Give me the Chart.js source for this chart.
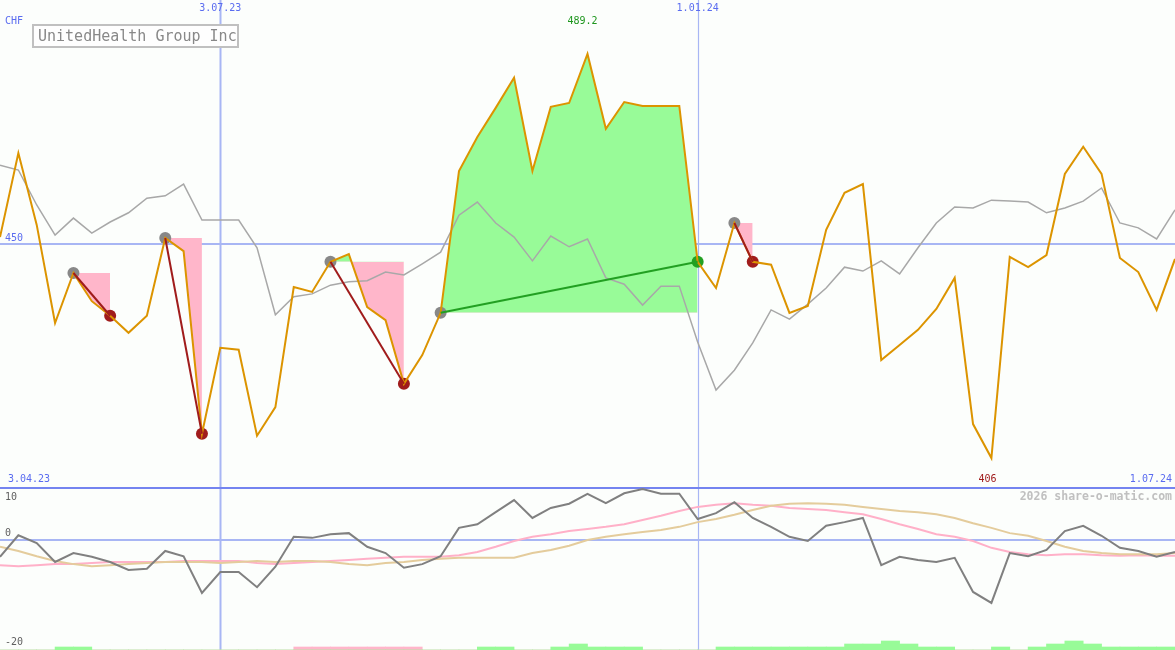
<!DOCTYPE html>
<html>
<head>
<meta charset="utf-8">
<script src="https://cdn.jsdelivr.net/npm/chart.js@4.4.1/dist/chart.umd.min.js"></script>
<style>
  body { margin: 0; background: #fcfefc; }
  #wrap { position: relative; width: 1175px; height: 650px; overflow: hidden; }
  canvas { position: absolute; left: 0; }
  #main { top: 0; }
  #osc { top: 487px; }
</style>
</head>
<body>
<div id="wrap">
  <canvas id="main" width="1175" height="487"></canvas>
  <canvas id="osc" width="1175" height="163"></canvas>
</div>
<script>
const title = "UnitedHealth Group Inc";
const currency = "CHF";
const site = "2026 share-o-matic.com";

const weeks = [
    "10.04.23", "17.04.23", "24.04.23", "1.05.23", "8.05.23", "15.05.23", "22.05.23", "29.05.23",
    "5.06.23", "12.06.23", "19.06.23", "26.06.23", "3.07.23", "10.07.23", "17.07.23", "24.07.23",
    "31.07.23", "7.08.23", "14.08.23", "21.08.23", "28.08.23", "4.09.23", "11.09.23", "18.09.23",
    "25.09.23", "2.10.23", "9.10.23", "16.10.23", "23.10.23", "30.10.23", "6.11.23", "13.11.23",
    "20.11.23", "27.11.23", "4.12.23", "11.12.23", "18.12.23", "25.12.23", "1.01.24", "8.01.24",
    "15.01.24", "22.01.24", "29.01.24", "5.02.24", "12.02.24", "19.02.24", "26.02.24", "4.03.24",
    "11.03.24", "18.03.24", "25.03.24", "1.04.24", "8.04.24", "15.04.24", "22.04.24", "29.04.24",
    "6.05.24", "13.05.24", "20.05.24", "27.05.24", "3.06.24", "10.06.24", "17.06.24", "24.06.24",
    "1.07.24"
];

// weekly close, CHF
const price = [
    451.5, 468.8, 454.0, 433.8, 444.1, 438.3, 435.3, 431.8, 435.3, 451.3,
    448.6, 411.0, 428.7, 428.3, 410.6, 416.5, 441.2, 440.2, 446.4, 448.0,
    437.1, 434.4, 421.3, 427.2, 435.9, 465.1, 472.1, 478.1, 484.3, 465.1,
    478.3, 479.1, 489.2, 473.8, 479.3, 478.5, 478.5, 478.5, 446.4, 441.0,
    454.4, 446.4, 445.8, 435.9, 437.3, 453.0, 460.6, 462.4, 426.2, 429.3,
    432.4, 436.7, 443.1, 413.0, 406.0, 447.4, 445.3, 447.8, 464.5, 470.1,
    464.5, 447.2, 444.3, 436.5, 447.0
];

// grey comparison line
const benchmark = [
    466.3, 465.3, 458.1, 451.9, 455.4, 452.3, 454.6, 456.5, 459.5, 460.0,
    462.4, 455.0, 455.0, 455.0, 449.3, 435.5, 439.2, 439.8, 441.6, 442.3,
    442.5, 444.3, 443.7, 446.0, 448.4, 456.0, 458.7, 454.4, 451.5, 446.6,
    451.7, 449.5, 451.1, 443.1, 441.8, 437.5, 441.4, 441.4, 429.9, 420.0,
    424.1, 429.7, 436.5, 434.6, 437.7, 441.0, 445.3, 444.5, 446.6, 443.9,
    449.3, 454.4, 457.7, 457.5, 459.1, 458.9, 458.7, 456.5, 457.5, 458.9,
    461.6, 454.4, 453.4, 451.1, 457.1
];

// lower panel
const momentum = [
    -3.1, 1.0, -0.5, -4.1, -2.4, -3.1, -4.1, -5.6, -5.4, -2.0,
    -3.0, -10.0, -6.0, -6.0, -8.9, -5.0, 0.7, 0.5, 1.2, 1.4,
    -1.2, -2.4, -5.2, -4.5, -3.0, 2.4, 3.1, 5.4, 7.7, 4.3,
    6.2, 7.0, 8.9, 7.1, 9.0, 9.8, 8.9, 8.9, 4.1, 5.2,
    7.3, 4.3, 2.6, 0.7, -0.1, 2.8, 3.5, 4.3, -4.7, -3.1,
    -3.7, -4.1, -3.3, -9.8, -11.9, -2.4, -3.0, -1.8, 1.8, 2.8,
    0.9, -1.4, -2.0, -3.1, -2.2
];
const fastAvg = [
    -4.7, -4.9, -4.7, -4.5, -4.5, -4.3, -4.1, -4.1, -4.1, -4.1,
    -3.9, -3.9, -3.9, -3.9, -4.3, -4.5, -4.3, -4.1, -3.9, -3.7,
    -3.5, -3.3, -3.1, -3.1, -3.1, -2.8, -2.2, -1.2, -0.1, 0.7,
    1.2, 1.8, 2.2, 2.6, 3.1, 3.9, 4.7, 5.6, 6.4, 6.8,
    7.1, 6.8, 6.6, 6.2, 6.0, 5.8, 5.4, 5.0, 4.1, 3.1,
    2.2, 1.2, 0.7, -0.1, -1.4, -2.2, -2.6, -2.8, -2.6, -2.6,
    -2.8, -2.9, -2.8, -2.9, -2.9
];
const slowAvg = [
    -1.2, -2.0, -3.0, -3.9, -4.5, -4.9, -4.7, -4.5, -4.3, -4.1,
    -4.1, -4.1, -4.3, -4.1, -3.9, -4.1, -3.9, -3.9, -4.1, -4.5,
    -4.7, -4.3, -4.1, -3.7, -3.5, -3.3, -3.3, -3.3, -3.3, -2.4,
    -1.8, -1.0, 0.1, 0.7, 1.2, 1.6, 2.0, 2.6, 3.5, 4.1,
    4.9, 5.8, 6.6, 7.0, 7.1, 7.0, 6.8, 6.4, 6.0, 5.6,
    5.4, 5.0, 4.3, 3.3, 2.4, 1.4, 0.9, -0.1, -1.2, -2.0,
    -2.4, -2.6, -2.6, -2.6, -2.4
];

// signal strength per week interval (64 intervals)
const signalUp = [
    0, 0, 0, 1, 1, 0, 0, 0, 0, 0,
    0, 0, 0, 0, 0, 0, 0, 0, 0, 0,
    0, 0, 0, 0, 0, 0, 1, 1, 0, 0,
    1, 2, 1, 1, 1, 0, 0, 0, 0, 1,
    1, 1, 1, 1, 1, 1, 2, 2, 3, 2,
    1, 1, 0, 0, 1, 0, 1, 2, 3, 2,
    1, 1, 1, 1
];
const signalDown = [
    0, 0, 0, 0, 0, 0, 0, 0, 0, 0,
    0, 0, 0, 0, 0, 0, 1, 1, 1, 1,
    1, 1, 1, 0, 0, 0, 0, 0, 0, 0,
    0, 0, 0, 0, 0, 0, 0, 0, 0, 0,
    0, 0, 0, 0, 0, 0, 0, 0, 0, 0,
    0, 0, 0, 0, 0, 0, 0, 0, 0, 0,
    0, 0, 0, 0
];

// trades: week index of buy and sell
const tradeEntry = [4, 9, 18, 24, 40];
const tradeExit = [6, 11, 22, 38, 41];

const markIdx = [12, 38];
const markLabels = ["3.07.23", "1.01.24"];
const startLabel = "3.04.23";
const endLabel = "1.07.24";
const priceLevel = 450;
const oscTicks = [10, 0, -20];

const FONT = "'DejaVu Sans Mono', monospace";
const BLUE = "#5a6cf0";
const GRID = "#a8b6f4";
const UP = "rgb(152,251,152)";
const DOWN = "rgb(255,182,202)";
const LOSS = "#a01c1c";
const WIN = "#22a022";

function fmt(v) { return String(+v.toFixed(1)); }

// main panel datasets
const mainSets = [];
tradeEntry.forEach((e, k) => {
    const x = tradeExit[k];
    const win = price[x] > price[e];
    mainSets.push({
        data: weeks.map((_, i) => (i >= e && i <= x) ? price[e] : null),
        borderWidth: 0, borderColor: "transparent", pointRadius: 0, fill: false, order: 20
    });
    mainSets.push({
        data: weeks.map((_, i) => (i >= e && i <= x) ? price[i] : null),
        borderWidth: 0, borderColor: "transparent", pointRadius: 0,
        fill: { target: mainSets.length - 1, above: UP, below: DOWN }, order: 19
    });
    mainSets.push({
        data: weeks.map((_, i) => (i === e || i === x) ? price[i] : null),
        spanGaps: true, borderColor: win ? WIN : LOSS, borderWidth: 2, pointRadius: 0, order: 2
    });
});
mainSets.push({
    data: weeks.map((_, i) => tradeEntry.includes(i) ? price[i] : null),
    showLine: false, pointRadius: 6, pointHoverRadius: 6, pointBorderWidth: 0,
    pointBackgroundColor: "#888888", order: 10
});
mainSets.push({
    data: weeks.map((_, i) => tradeExit.includes(i) ? price[i] : null),
    showLine: false, pointRadius: 6, pointHoverRadius: 6, pointBorderWidth: 0,
    pointBackgroundColor: ctx => {
        const k = tradeExit.indexOf(ctx.dataIndex);
        return k >= 0 && price[tradeExit[k]] > price[tradeEntry[k]] ? WIN : LOSS;
    },
    order: 9
});
mainSets.push({ data: benchmark, borderColor: "#a8a8a8", borderWidth: 1.5, pointRadius: 0, fill: false, order: 8 });
mainSets.push({ data: price, borderColor: "#dc9400", borderWidth: 2, pointRadius: 0, fill: false, order: 5 });

function vLines(chart) {
    const c = chart.ctx, xs = chart.scales.x;
    c.save();
    c.strokeStyle = GRID;
    markIdx.forEach((idx, n) => {
        c.lineWidth = n === 0 ? 2 : 1.2;
        const px = Math.round(xs.getPixelForValue(idx)) + 0.5;
        c.beginPath(); c.moveTo(px, 0); c.lineTo(px, chart.height); c.stroke();
    });
    c.restore();
}

const mainDecor = {
    id: "mainDecor",
    beforeDatasetsDraw(chart) {
        const c = chart.ctx, ys = chart.scales.y;
        vLines(chart);
        c.save();
        c.strokeStyle = GRID; c.lineWidth = 2;
        const py = Math.round(ys.getPixelForValue(priceLevel));
        c.beginPath(); c.moveTo(0, py); c.lineTo(chart.width, py); c.stroke();
        c.restore();
    },
    afterDraw(chart) {
        const c = chart.ctx, xs = chart.scales.x, ys = chart.scales.y;
        c.save();
        c.font = "10px " + FONT;
        c.textBaseline = "top";
        c.fillStyle = BLUE;
        c.textAlign = "center";
        markIdx.forEach((idx, n) => c.fillText(markLabels[n], xs.getPixelForValue(idx), 3));
        c.textAlign = "left";
        c.fillText(currency, 5, 16);
        c.textBaseline = "bottom";
        c.fillText(String(priceLevel), 5, ys.getPixelForValue(priceLevel) - 1);
        c.fillText(startLabel, 8, chart.height - 3);
        c.textAlign = "right";
        c.fillText(endLabel, chart.width - 3, chart.height - 3);

        const hi = price.indexOf(Math.max(...price));
        const lo = price.indexOf(Math.min(...price));
        c.textAlign = "center";
        c.fillStyle = "#1e961e";
        c.textBaseline = "top";
        c.fillText(fmt(price[hi]), xs.getPixelForValue(hi) - 5, 16);
        c.fillStyle = "#a01c1c";
        c.textBaseline = "bottom";
        c.fillText(fmt(price[lo]), xs.getPixelForValue(lo) - 4, chart.height - 3);

        // title box
        c.fillStyle = "#fefefe";
        c.fillRect(33, 25, 205, 22);
        c.strokeStyle = "#c0c0c0"; c.lineWidth = 2;
        c.strokeRect(33, 25, 205, 22);
        c.fillStyle = "#888888";
        c.font = "15px " + FONT;
        c.textAlign = "left";
        c.textBaseline = "alphabetic";
        c.fillText(title, 38, 41);
        c.restore();
    }
};

new Chart(document.getElementById("main"), {
    type: "line",
    data: { labels: weeks, datasets: mainSets },
    options: {
        responsive: false,
        animation: false,
        devicePixelRatio: 1,
        events: [],
        layout: { padding: 0, autoPadding: false },
        elements: { line: { tension: 0 } },
        plugins: { legend: { display: false }, tooltip: { enabled: false } },
        scales: {
            x: { display: false, offset: false },
            y: { display: false, min: 400.05, max: 500.3 }
        }
    },
    plugins: [mainDecor]
});

// lower panel
const oscDecor = {
    id: "oscDecor",
    beforeDatasetsDraw(chart) {
        const c = chart.ctx, ys = chart.scales.y;
        vLines(chart);
        c.save();
        c.strokeStyle = GRID; c.lineWidth = 2;
        const py = Math.round(ys.getPixelForValue(0));
        c.beginPath(); c.moveTo(0, py); c.lineTo(chart.width, py); c.stroke();
        c.strokeStyle = "#7484f0";
        c.beginPath(); c.moveTo(0, 1); c.lineTo(chart.width, 1); c.stroke();
        c.restore();
    },
    afterDraw(chart) {
        const c = chart.ctx, ys = chart.scales.y;
        c.save();
        c.font = "10px " + FONT;
        c.fillStyle = "#606060";
        c.textAlign = "left";
        oscTicks.forEach(t => {
            let py = ys.getPixelForValue(t);
            if (t === oscTicks[0]) { c.textBaseline = "top"; py = 5; }
            else if (t === oscTicks[oscTicks.length - 1]) { c.textBaseline = "bottom"; py = chart.height - 3; }
            else { c.textBaseline = "bottom"; py -= 2; }
            c.fillText(String(t), 5, py);
        });
        c.font = "bold 11.5px " + FONT;
        c.fillStyle = "#c0c0c0";
        c.textAlign = "right";
        c.textBaseline = "top";
        c.fillText(site, chart.width - 3, 4);
        c.restore();
    }
};

new Chart(document.getElementById("osc"), {
    type: "line",
    data: {
        labels: weeks,
        datasets: [
            { data: momentum, borderColor: "#808080", borderWidth: 2, pointRadius: 0, order: 1 },
            { data: fastAvg, borderColor: "#ffb0c8", borderWidth: 2, pointRadius: 0, order: 3 },
            { data: slowAvg, borderColor: "#e4cc9c", borderWidth: 2, pointRadius: 0, order: 2 },
            { type: "bar", data: signalUp, xAxisID: "x2", yAxisID: "y2", backgroundColor: UP,
              grouped: false, barPercentage: 1, categoryPercentage: 1, order: 5 },
            { type: "bar", data: signalDown, xAxisID: "x2", yAxisID: "y2", backgroundColor: DOWN,
              grouped: false, barPercentage: 1, categoryPercentage: 1, order: 5 }
        ]
    },
    options: {
        responsive: false,
        animation: false,
        devicePixelRatio: 1,
        events: [],
        layout: { padding: 0, autoPadding: false },
        elements: { line: { tension: 0 } },
        plugins: { legend: { display: false }, tooltip: { enabled: false } },
        scales: {
            x: { display: false, offset: false },
            x2: { display: false, offset: true, labels: weeks.slice(0, 64) },
            y: { display: false, min: -20.86, max: 10.19 },
            y2: { display: false, min: 0, max: 54.33 }
        }
    },
    plugins: [oscDecor]
});
</script>
</body>
</html>
